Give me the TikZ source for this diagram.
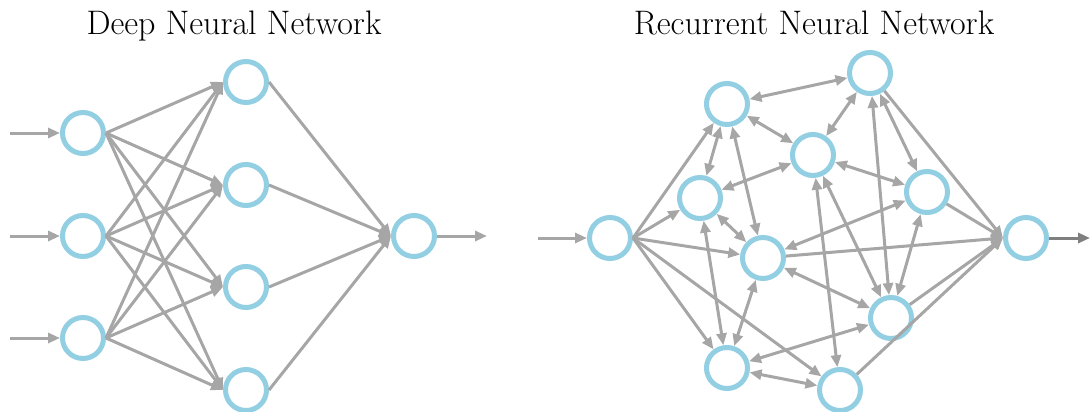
\documentclass[tikz,border=0pt]{standalone}
\usepackage{tikz}
\usetikzlibrary{shapes,arrows,arrows.meta}
\definecolor{nodeblue}{HTML}{92CFE2}
\definecolor{linkgray}{HTML}{A6A6A6}
\definecolor{outgray}{HTML}{7F7F7F}
\tikzstyle{neuron} = [circle, minimum size=41pt, inner sep=0pt, line width=5pt, draw=nodeblue, fill=white]
\tikzstyle{arrow} = [line width=3pt, draw=linkgray, -{Triangle[length=12pt,width=10pt]}]
\tikzstyle{darrow} = [line width=3pt, draw=linkgray, {Triangle[length=12pt,width=10pt]}-{Triangle[length=12pt,width=10pt]}]
\tikzstyle{title} = [font=\fontsize{34}{40}\selectfont, anchor=base, inner sep=0pt]

\begin{document}
\begin{tikzpicture}[x=1pt, y=-1pt]
    \useasboundingbox (0,0) rectangle (1090,412);

    % deep network
    \node (DNNt) [title] at (234,35) {Deep Neural Network};
    \node (I1) [neuron] at (83,133) {};
    \node (I2) [neuron] at (83,236) {};
    \node (I3) [neuron] at (83,338) {};
    \node (H1) [neuron] at (246,82) {};
    \node (H2) [neuron] at (246,185) {};
    \node (H3) [neuron] at (246,287) {};
    \node (H4) [neuron] at (246,390) {};
    \node (O) [neuron] at (414,236) {};
    \coordinate (X1) at (10,133);
    \coordinate (X2) at (10,236);
    \coordinate (X3) at (10,338);
    \coordinate (Y) at (487,236);

    \draw [arrow] (X1) -- (I1);
    \draw [arrow] (X2) -- (I2);
    \draw [arrow] (X3) -- (I3);
    \draw [arrow] (I1.east) -- (H1.west);
    \draw [arrow] (I1.east) -- (H2.west);
    \draw [arrow] (I1.east) -- (H3.west);
    \draw [arrow] (I1.east) -- (H4.west);
    \draw [arrow] (I2.east) -- (H1.west);
    \draw [arrow] (I2.east) -- (H2.west);
    \draw [arrow] (I2.east) -- (H3.west);
    \draw [arrow] (I2.east) -- (H4.west);
    \draw [arrow] (I3.east) -- (H1.west);
    \draw [arrow] (I3.east) -- (H2.west);
    \draw [arrow] (I3.east) -- (H3.west);
    \draw [arrow] (I3.east) -- (H4.west);
    \draw [arrow] (H1.east) -- (O.west);
    \draw [arrow] (H2.east) -- (O.west);
    \draw [arrow] (H3.east) -- (O.west);
    \draw [arrow] (H4.east) -- (O.west);
    \draw [arrow] (O) -- (Y);

    % recurrent network
    \node (RNNt) [title] at (814,35) {Recurrent Neural Network};
    \node (RI) [neuron] at (610,238) {};
    \node (RA) [neuron] at (727,104) {};
    \node (RB) [neuron] at (870,73) {};
    \node (RC) [neuron] at (700,198) {};
    \node (RD) [neuron] at (813,155) {};
    \node (RE) [neuron] at (927,192) {};
    \node (RF) [neuron] at (763,258) {};
    \node (RG) [neuron] at (891,318) {};
    \node (RH) [neuron] at (727,368) {};
    \node (RK) [neuron] at (840,390) {};
    \node (RO) [neuron] at (1026,238) {};
    \coordinate (RX) at (538,238);
    \coordinate (RY) at (1090,238);

    \draw [arrow] (RX) -- (RI);
    \draw [arrow] (RI.east) -- (RA);
    \draw [arrow] (RI.east) -- (RC);
    \draw [arrow] (RI.east) -- (RF);
    \draw [arrow] (RI.east) -- (RH);
    \draw [arrow] (RI.east) -- (RK);
    \draw [darrow] (RA) -- (RB);
    \draw [darrow] (RA) -- (RC);
    \draw [darrow] (RA) -- (RD);
    \draw [darrow] (RA) -- (RF);
    \draw [darrow] (RB) -- (RD);
    \draw [darrow] (RB) -- (RE);
    \draw [darrow] (RB) -- (RG);
    \draw [darrow] (RC) -- (RD);
    \draw [darrow] (RC) -- (RF);
    \draw [darrow] (RC) -- (RH);
    \draw [darrow] (RD) -- (RE);
    \draw [darrow] (RD) -- (RG);
    \draw [darrow] (RD) -- (RK);
    \draw [darrow] (RE) -- (RF);
    \draw [darrow] (RE) -- (RG);
    \draw [darrow] (RF) -- (RG);
    \draw [darrow] (RF) -- (RH);
    \draw [darrow] (RG) -- (RH);
    \draw [darrow] (RH) -- (RK);
    \draw [arrow] (RB) -- (RO.west);
    \draw [arrow] (RE) -- (RO.west);
    \draw [arrow] (RF) -- (RO.west);
    \draw [arrow] (RG) -- (RO.west);
    \draw [arrow] (RK) -- (RO.west);
    \draw [arrow, draw=outgray] (RO) -- (RY);

\end{tikzpicture}
\end{document}
